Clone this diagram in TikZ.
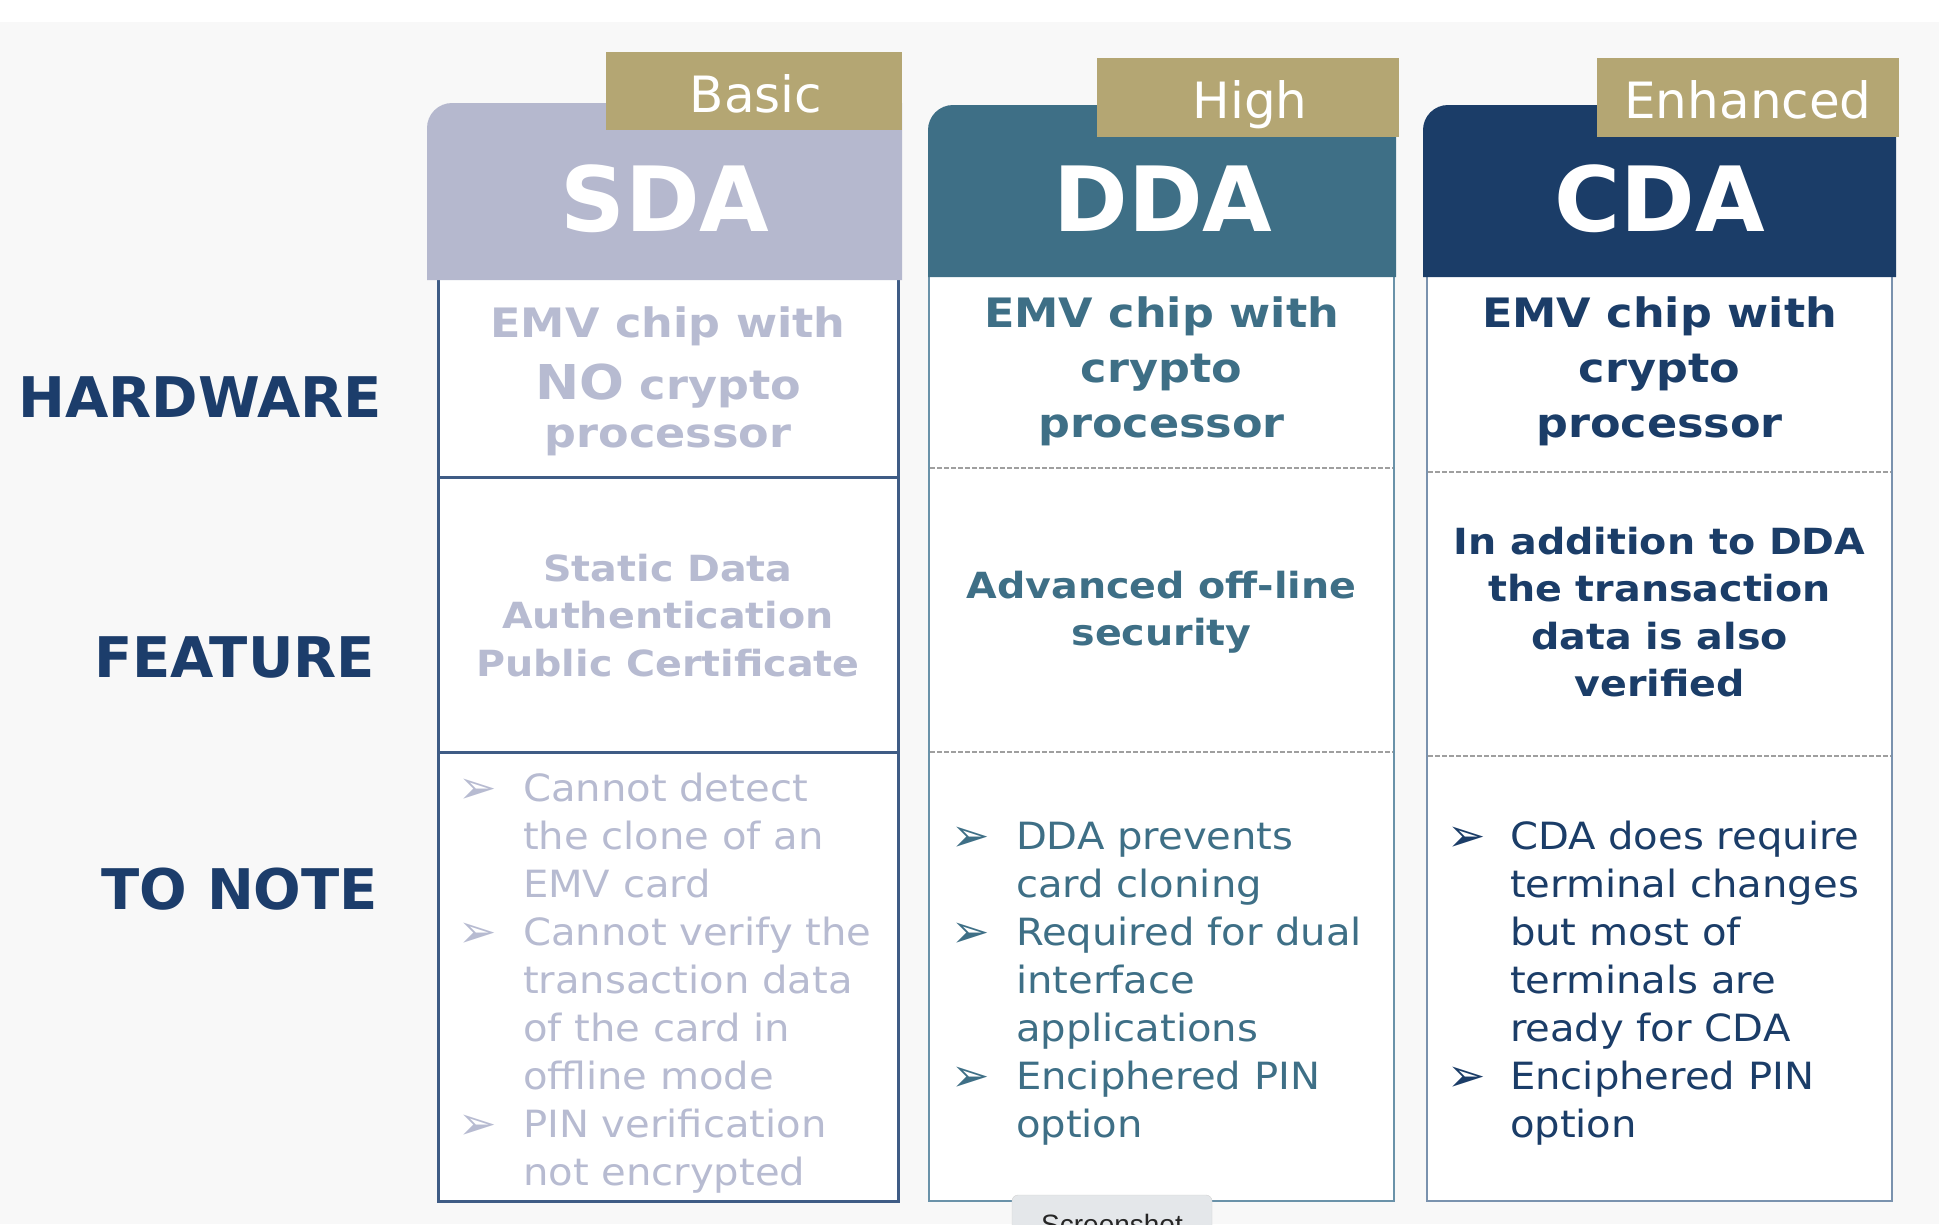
\documentclass[tikz,border=0pt]{standalone}
\usepackage{fontspec}
\setmainfont{DejaVu Sans}[FakeStretch=1.07]
\newfontfamily\cellfont[FakeStretch=1.1]{DejaVu Sans}
\newfontfamily\headfont{DejaVu Sans}
\newfontfamily\tipfont{Liberation Sans}
\usepackage{xcolor}
\usepackage{array}
\usepackage{tikz}

\definecolor{pagebg}{HTML}{F8F8F8}
\definecolor{navy}{HTML}{1C3D6B}
\definecolor{tabcol}{HTML}{B4A673}
\definecolor{sdacol}{HTML}{B5B8CE}
\definecolor{sdatext}{HTML}{B7BBD1}
\definecolor{sdaline}{HTML}{3F5C85}
\definecolor{ddacol}{HTML}{3E6F86}
\definecolor{ddaline}{HTML}{6A92A9}
\definecolor{cdacol}{HTML}{1B3D68}
\definecolor{cdaline}{HTML}{7A92AE}
\definecolor{tipbg}{HTML}{E4E7EA}

\newcommand{\bul}{\raisebox{-2pt}[0pt][0pt]{\headfont\fontsize{46}{46}\selectfont ➢}}

\begin{document}
\begin{tikzpicture}[x=1pt, y=-1pt,
		    every node/.style={inner sep=0pt, outer sep=0pt},
		    hdr/.style={anchor=base, text=white, font=\headfont\fontsize{90}{90}\selectfont\bfseries},
		    tab/.style={anchor=base, text=white, font=\headfont\fontsize{50}{50}\selectfont},
		    rowlabel/.style={anchor=base east, text=navy, font=\headfont\fontsize{56}{56}\selectfont\bfseries},
		    cell/.style={anchor=north, font=\cellfont\bfseries},
		    notes/.style={anchor=north west}
		]
		\tikzset{
		    frame/.style={line width=3pt},
		    split/.style={draw=gray!75, line width=2pt, dash pattern=on 5pt off 2pt}
		}
		\useasboundingbox (0,0) rectangle (1942,1224);
		\clip (0,0) rectangle (1942,1224);
		\fill[white] (0,0) rectangle (1942,1224);
		\fill[pagebg] (0,22) rectangle (1939,1224);

		\fill[white] (438,280) rectangle (898,1201);
		\fill[white] (929,277) rectangle (1394,1201);
		\fill[white] (1427,277) rectangle (1892,1201);
		\draw[frame, sdaline] (438,280) -- (438,1201) -- (898,1201) -- (898,280);
		\draw[frame, sdaline] (438,477) -- (898,477);
		\draw[frame, sdaline] (438,752) -- (898,752);
		\draw[frame, ddaline, line width=2.5pt] (929,277) -- (929,1201) -- (1394,1201) -- (1394,277);
		\draw[split] (930,468) -- (1393,468);
		\draw[split] (930,752) -- (1393,752);
		\draw[frame, cdaline, line width=2.5pt] (1427,277) -- (1427,1201) -- (1892,1201) -- (1892,277);
		\draw[split] (1428,472) -- (1891,472);
		\draw[split] (1428,756) -- (1891,756);

		\fill[sdacol] (427,280) [rounded corners=25pt] -- (427,103) [sharp corners] -- (902,103) -- (902,280) -- cycle;
		\fill[ddacol] (928,277) [rounded corners=25pt] -- (928,105) [sharp corners] -- (1396,105) -- (1396,277) -- cycle;
		\fill[cdacol] (1423,277) [rounded corners=25pt] -- (1423,105) [sharp corners] -- (1896,105) -- (1896,277) -- cycle;
		\fill[tabcol] (606,52) rectangle (902,130);
		\fill[tabcol] (1097,58) rectangle (1399,137);
		\fill[tabcol] (1597,58) rectangle (1899,137);

		\node[tab] (basic) at (756,112) {Basic};
		\node[tab] (high) at (1250,118) {High};
		\node[tab] (enhanced) at (1748,118) {Enhanced};
		\node[hdr] (sda) at (665,231) {SDA};
		\node[hdr] (dda) at (1163,231) {DDA};
		\node[hdr] (cda) at (1660,231) {CDA};

		\node[rowlabel] (hardware) at (382,417) {HARDWARE};
		\node[rowlabel] (feature) at (375,677) {FEATURE};
		\node[rowlabel] (tonote) at (378,909) {TO NOTE};

		\node[cell, text=sdatext] (sdahw) at (668,303.4) {\fontsize{40.5}{48}\selectfont
		  \begin{tabular}{@{}c@{}}EMV chip with\\[12pt]{\fontsize{48}{48}\selectfont NO} crypto\\processor\end{tabular}};
		\node[cell, text=ddacol] (ddahw) at (1161.5,288.5) {\fontsize{40.5}{55}\selectfont
		  \begin{tabular}{@{}c@{}}EMV chip with\\crypto\\processor\end{tabular}};
		\node[cell, text=cdacol] (cdahw) at (1659.5,288.5) {\fontsize{40.5}{55}\selectfont
		  \begin{tabular}{@{}c@{}}EMV chip with\\crypto\\processor\end{tabular}};

		\node[cell, text=sdatext] (sdafeat) at (668,547.75) {\fontsize{36}{47.5}\selectfont
		  \begin{tabular}{@{}c@{}}Static Data\\Authentication\\Public Certificate\end{tabular}};
		\node[cell, text=ddacol] (ddafeat) at (1161.5,564.75) {\fontsize{36}{47.5}\selectfont
		  \begin{tabular}{@{}c@{}}Advanced off-line\\security\end{tabular}};
		\node[cell, text=cdacol] (cdafeat) at (1659.5,520.75) {\fontsize{36}{47.5}\selectfont
		  \begin{tabular}{@{}c@{}}In addition to DDA\\the transaction\\data is also\\verified\end{tabular}};

		\node[notes, text=sdatext] (sdanote) at (458,767.4) {\fontsize{37.5}{48}\selectfont
		  \begin{tabular}{@{}p{65pt}@{}l@{}}
		  \bul & Cannot detect\\ & the clone of an\\ & EMV card\\
		  \bul & Cannot verify the\\ & transaction data\\ & of the card in\\ & offline mode\\
		  \bul & PIN verification\\ & not encrypted
		  \end{tabular}};
		\node[notes, text=ddacol] (ddanote) at (951,815.4) {\fontsize{37.5}{48}\selectfont
		  \begin{tabular}{@{}p{65pt}@{}l@{}}
		  \bul & DDA prevents\\ & card cloning\\
		  \bul & Required for dual\\ & interface\\ & applications\\
		  \bul & Enciphered PIN\\ & option
		  \end{tabular}};
		\node[notes, text=cdacol] (cdanote) at (1447,815.4) {\fontsize{37.5}{48}\selectfont
		  \begin{tabular}{@{}p{63pt}@{}l@{}}
		  \bul & CDA does require\\ & terminal changes\\ & but most of\\ & terminals are\\ & ready for CDA\\
		  \bul & Enciphered PIN\\ & option
		  \end{tabular}};

		\filldraw[fill=tipbg, draw=gray!35, rounded corners=6pt] (1012,1195) rectangle (1212,1270);
		\node[anchor=base, text=black!85, font=\tipfont\fontsize{28}{28}\selectfont] (shot) at (1112,1234) {Screenshot};
		\end{tikzpicture}
\end{document}
